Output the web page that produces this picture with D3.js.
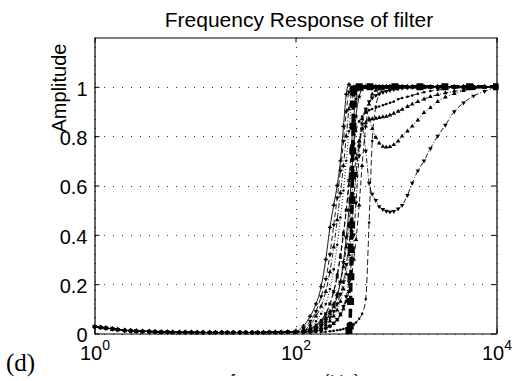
<!DOCTYPE html>
<html><head><meta charset="utf-8">
<script src="https://cdn.jsdelivr.net/npm/d3@7"></script>
<style>body{margin:0;background:#fff}svg{display:block}</style>
</head><body><svg id="c" width="514" height="381"></svg>
<script>
const titleText = "Frequency Response of filter";
const yLabelText = "Amplitude";
const xLabelText = "frequency (Hz)";
const panelLabel = "(d)";
const xTicks = [1, 100, 10000];
const xTickExps = ["0", "2", "4"];
const yTicks = [0, 0.2, 0.4, 0.6, 0.8, 1];
const yTickLabels = ["0", "0.2", "0.4", "0.6", "0.8", "1"];

// shared pass-band floor (below 100 Hz all responses overlap)
const freqLow = [1,1.15,1.3,1.5,1.7,2,2.3,2.6,3,3.5,4,4.6,5.3,6,7,8,9.2,10.5,12,14,16,18.5,21,24,28,32,37,42,48,55,63,72,84];
const ampLow  = [0.028,0.025,0.022,0.019,0.016,0.013,0.011,0.01,0.009,0.008,0.007,0.006,0.006,0.005,0.005,0.005,0.005,0.004,0.004,0.004,0.004,0.004,0.004,0.004,0.004,0.004,0.004,0.004,0.004,0.005,0.005,0.005,0.006];

// transition band frequencies
const freqBand = [100,120,140,160,180,200,220,240,260,280, 300,320,340,360,380,400,430,460,500,540, 580,630,680,740,800,870,950,1050,1150,1300, 1450,1650,1900,2200,2600,3100,3800,4700,5900,7600, 10000];

const s1 = [0.008,0.03,0.07,0.12,0.19,0.3,0.43,0.52,0.6,0.7, 0.84,0.97,1.01,0.99,1,1,1,1,1,1, 1,1,1,1,1,1,1,1,1,1, 1,1,1,1,1,1,1,1,1,1, 1];
const s2 = [0.007,0.02,0.05,0.09,0.15,0.22,0.32,0.44,0.55,0.66, 0.78,0.9,0.98,1,0.98,1,1,1,1,1, 1,1,1,1,1,1,1,1,1,1, 1,1,1,1,1,1,1,1,1,1, 1];
const s3 = [0.006,0.012,0.035,0.07,0.11,0.17,0.25,0.35,0.46,0.57, 0.68,0.8,0.91,0.97,0.99,1,1,1,1,1, 1,1,1,1,1,1,1,1,1,1, 1,1,1,1,1,1,1,1,1,1, 1];
const s4 = [0.006,0.01,0.025,0.05,0.08,0.12,0.18,0.26,0.36,0.47, 0.58,0.7,0.82,0.92,0.98,1,0.99,1,1,1, 1,1,1,1,1,1,1,1,1,1, 1,1,1,1,1,1,1,1,1,1, 1];
const s5 = [0.006,0.008,0.015,0.03,0.05,0.08,0.12,0.17,0.23,0.31, 0.4,0.5,0.62,0.76,0.88,0.95,0.99,1,1,1, 1,1,1,1,1,1,1,1,1,1, 1,1,1,1,1,1,1,1,1,1, 1];
const s6 = [0.006,0.007,0.01,0.02,0.035,0.055,0.08,0.11,0.15,0.21, 0.29,0.39,0.5,0.63,0.77,0.88,0.96,0.99,1,1, 1,1,1,1,1,1,1,1,1,1, 1,1,1,1,1,1,1,1,1,1, 1];
const s7 = [0.006,0.006,0.01,0.018,0.03,0.045,0.065,0.09,0.12,0.16, 0.21,0.28,0.36,0.45,0.55,0.65,0.76,0.85,0.91,0.94, 0.955,0.965,0.972,0.978,0.982,0.986,0.99,0.993,0.995,0.997, 0.998,1,1,1,1,1,1,1,1,1, 1];
const s8 = [0.006,0.006,0.006,0.01,0.015,0.022,0.03,0.04,0.055,0.075, 0.1,0.13,0.17,0.23,0.3,0.38,0.52,0.68,0.84,0.93, 0.97,0.985,0.99,0.995,1,1,1,1,1,1, 1,1,1,1,1,1,1,1,1,1, 1];
const s9 = [0.006,0.006,0.006,0.006,0.006,0.007,0.009,0.011,0.013,0.015, 0.018,0.021,0.025,0.03,0.036,0.045,0.06,0.08,0.14,0.45, 0.78,0.92,0.97,0.99,1,1,1,1,1,1, 1,1,1,1,1,1,1,1,1,1, 1];
const sA = [0.006,0.007,0.01,0.016,0.024,0.035,0.05,0.07,0.095,0.13, 0.18,0.24,0.32,0.42,0.53,0.64,0.78,0.87,0.9,0.87, 0.83,0.795,0.772,0.758,0.755,0.757,0.765,0.78,0.8,0.82, 0.84,0.865,0.895,0.915,0.94,0.958,0.972,0.984,0.992,0.998, 1];
const sB = [0.006,0.006,0.007,0.01,0.015,0.022,0.03,0.042,0.058,0.08, 0.11,0.15,0.21,0.29,0.4,0.53,0.72,0.83,0.74,0.61, 0.565,0.54,0.515,0.503,0.496,0.493,0.495,0.505,0.52,0.56, 0.61,0.66,0.7,0.75,0.8,0.845,0.9,0.935,0.963,0.982, 1];
const sC = [0.007,0.012,0.02,0.035,0.055,0.08,0.12,0.17,0.24,0.32, 0.41,0.5,0.6,0.7,0.77,0.82,0.86,0.88,0.895,0.905, 0.91,0.915,0.92,0.925,0.93,0.935,0.94,0.95,0.955,0.96, 0.965,0.972,0.978,0.983,0.987,0.991,0.994,0.996,0.998,0.999, 1];
const sD = [0.006,0.01,0.02,0.03,0.045,0.065,0.09,0.12,0.16,0.21, 0.27,0.35,0.44,0.54,0.63,0.71,0.78,0.83,0.855,0.865, 0.87,0.872,0.875,0.878,0.88,0.885,0.892,0.9,0.908,0.92, 0.93,0.94,0.95,0.96,0.968,0.975,0.982,0.988,0.993,0.997, 1];

// heavy dashed response with square markers
const thickFreq = [340,350,353,356,359,362,365,368,371,374,377,380,430,551,975,1730,3060,5400,10000];
const thickAmp  = [0.012,0.03,0.13,0.23,0.34,0.44,0.54,0.64,0.74,0.84,0.93,0.98,1,1,1,1,1,1,1];

const bandSeries = [s1, s2, s3, s4, s5, s6, s7, s8, s9, sA, sB, sC, sD];
const styles = [
  {dash: null, marker: "+"},
  {dash: "5,3", marker: "v"},
  {dash: "5,2,1,2", marker: "^"},
  {dash: "1,2", marker: "."},
  {dash: "5,3", marker: "x"},
  {dash: null, marker: "*"},
  {dash: "5,2,1,2", marker: "v"},
  {dash: "5,3", marker: "^"},
  {dash: "6,3", marker: "."},
  {dash: "1,2", marker: "^"},
  {dash: "5,2,1,2", marker: "v"},
  {dash: "5,3", marker: "."},
  {dash: "5,2,1,2", marker: "^"}
];

const svg = d3.select("#c");
svg.append("rect").attr("width", 514).attr("height", 381).attr("fill", "#fff");

const x = d3.scaleLog().domain([1, 10000]).range([94.5, 496.5]);
const y = d3.scaleLinear().domain([0, 1.2]).range([333.5, 37.5]);
const FONT = "'Liberation Sans', Arial, Helvetica, sans-serif";

const defs = svg.append("defs");
defs.append("clipPath").attr("id", "plotclip").append("rect")
  .attr("x", 92.5).attr("y", 37.5).attr("width", 406).attr("height", 297);
defs.append("clipPath").attr("id", "xlclip").append("rect")
  .attr("x", 0).attr("y", 373.6).attr("width", 514).attr("height", 2.2);

// grid
const grid = svg.append("g").attr("stroke", "#333").attr("stroke-width", 1)
  .attr("stroke-dasharray", "1,8").attr("shape-rendering", "crispEdges");
grid.selectAll("line.h").data(yTicks).join("line").attr("class", "h")
  .attr("x1", x(1)).attr("x2", x(10000)).attr("y1", d => Math.round(y(d)) + 0.5).attr("y2", d => Math.round(y(d)) + 0.5);
grid.selectAll("line.v").data(xTicks).join("line").attr("class", "v")
  .attr("y1", y(1.2)).attr("y2", y(0)).attr("x1", d => Math.round(x(d)) + 0.5).attr("x2", d => Math.round(x(d)) + 0.5);

// series
const line = d3.line().x(d => x(d[0])).y(d => y(d[1])).curve(d3.curveMonotoneX);
const plot = svg.append("g").attr("clip-path", "url(#plotclip)");

function markerPath(m) {
  switch (m) {
    case "^": return {d: d3.symbol(d3.symbolTriangle, 9)(), rot: 0};
    case "v": return {d: d3.symbol(d3.symbolTriangle, 9)(), rot: 180};
    case "+": return {d: d3.symbol(d3.symbolCross, 9)(), rot: 0};
    case "x": return {d: d3.symbol(d3.symbolCross, 9)(), rot: 45};
    case "*": return {d: d3.symbol(d3.symbolStar, 10)(), rot: 0};
    case "s": return {d: d3.symbol(d3.symbolSquare, 48)(), rot: 0};
    default: return {d: d3.symbol(d3.symbolCircle, 5)(), rot: 0};
  }
}

bandSeries.forEach((vals, k) => {
  const pts = freqLow.map((f, i) => [f, ampLow[i]]).concat(freqBand.map((f, i) => [f, vals[i]]));
  const st = styles[k];
  plot.append("path").datum(pts).attr("d", line).attr("fill", "none")
    .attr("stroke", "#000").attr("stroke-width", 0.9)
    .attr("stroke-dasharray", st.dash);
  const mp = markerPath(st.marker);
  plot.append("g").selectAll("path").data(pts).join("path")
    .attr("d", mp.d).attr("fill", "#000")
    .attr("transform", d => `translate(${x(d[0])},${y(d[1])}) rotate(${mp.rot})`);
});

const thickPts = thickFreq.map((f, i) => [f, thickAmp[i]]);
plot.append("path").datum(thickPts).attr("d", d3.line().x(d => x(d[0])).y(d => y(d[1])))
  .attr("fill", "none").attr("stroke", "#000").attr("stroke-width", 3.5).attr("stroke-dasharray", "9,4");
const sq = markerPath("s");
plot.append("g").selectAll("path").data(thickPts).join("path")
  .attr("d", sq.d).attr("fill", "#000")
  .attr("transform", d => `translate(${x(d[0])},${y(d[1])})`);

// axes
function styleAxis(g) {
  g.attr("font-size", 20).attr("font-family", FONT).attr("color", "#000");
  g.selectAll("path.domain").attr("stroke-width", 1.2);
}
const gB = svg.append("g").attr("transform", `translate(0,${y(0)})`)
  .call(d3.axisBottom(x).tickValues(xTicks).tickSizeInner(-5).tickSizeOuter(0).tickFormat(() => ""));
styleAxis(gB);
gB.selectAll(".tick text").remove();
gB.selectAll(".tick").each(function(d, i) {
  const t = d3.select(this).append("text").attr("fill", "#000").attr("text-anchor", "middle")
    .attr("y", 26.5).attr("font-size", 20);
  t.append("tspan").text("10");
  t.append("tspan").attr("dy", -10).attr("font-size", 14).text(xTickExps[i]);
});
const gT = svg.append("g").attr("transform", `translate(0,${y(1.2)})`)
  .call(d3.axisTop(x).tickValues(xTicks).tickSizeInner(-5).tickSizeOuter(0).tickFormat(() => ""));
styleAxis(gT);
const gL = svg.append("g").attr("transform", `translate(${x(1)},0)`)
  .call(d3.axisLeft(y).tickValues(yTicks).tickSizeInner(-5).tickSizeOuter(0).tickPadding(7)
    .tickFormat((d, i) => yTickLabels[i]));
styleAxis(gL);
gL.selectAll(".tick text").attr("dy", "0.42em");
const gR = svg.append("g").attr("transform", `translate(${x(10000)},0)`)
  .call(d3.axisRight(y).tickValues(yTicks).tickSizeInner(-5).tickSizeOuter(0).tickFormat(() => ""));
styleAxis(gR);

// texts
svg.append("text").attr("x", 299).attr("y", 27).attr("text-anchor", "middle")
  .attr("font-family", FONT).attr("font-size", 21).attr("fill", "#000").text(titleText);
svg.append("text").attr("transform", "translate(66,88) rotate(-90)").attr("text-anchor", "middle")
  .attr("font-family", FONT).attr("font-size", 20).attr("fill", "#000").text(yLabelText);
svg.append("text").attr("x", 295).attr("y", 388.6).attr("text-anchor", "middle")
  .attr("clip-path", "url(#xlclip)")
  .attr("font-family", FONT).attr("font-size", 20).attr("fill", "#000").text(xLabelText);
svg.append("text").attr("x", 6).attr("y", 370.5)
  .attr("font-family", "'Liberation Serif', 'DejaVu Serif', serif").attr("font-size", 25).attr("fill", "#000").text(panelLabel);
</script></body></html>
